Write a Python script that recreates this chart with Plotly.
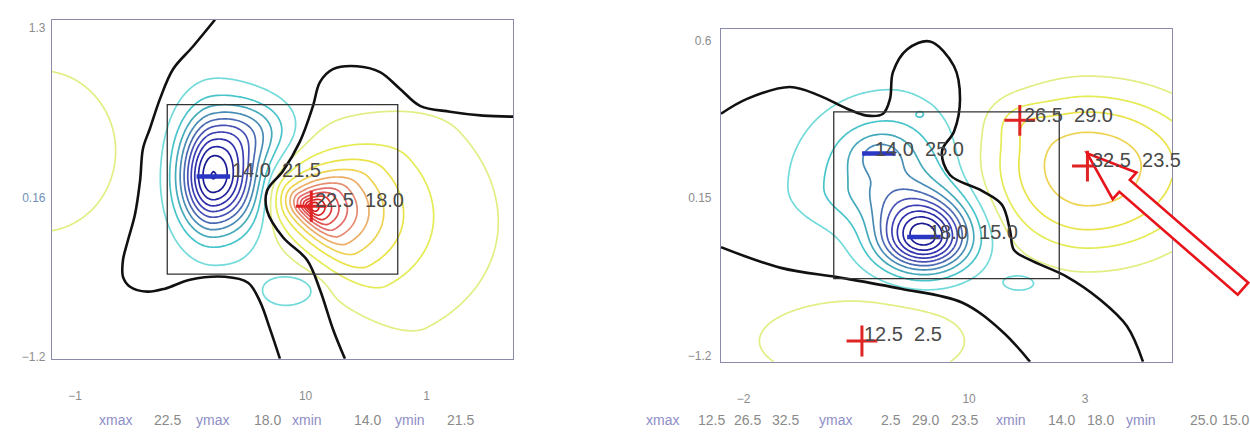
import numpy as np
import plotly.graph_objects as go

# ---------------- data (physical units 0..40) ----------------
# extrema listed under each panel
L_xmax = [22.5]; L_ymax = [18.0]; L_xmin = [14.0]; L_ymin = [21.5]
R_xmax = [12.5, 26.5, 32.5]; R_ymax = [2.5, 29.0, 23.5]
R_xmin = [14.0, 18.0]; R_ymin = [25.0, 15.0]

# field features (centre, amplitude, shape exponent, rotation, 4 half-scales)
L_fx = [14.0, 17.5, 21.1, 22.5, -1.0, 19.5]
L_fy = [21.5, 27.0, 8.2, 18.0, 24.5, 8.0]
L_amp = [-10.7, -2.2, -1.1, 12.0, 1.0, -0.45]
L_pow = [2, 2, 2, 1, 2, 2]
L_ang = [0, 0, 0, -55, 0, 0]
L_su_neg = [2.77, 3.5, 2.0, 2.6, 7.8, 3.5]
L_su_pos = [3.9, 3.5, 2.0, 5.5, 7.8, 3.0]
L_sv_neg = [6.0, 3.5, 1.6, 1.8, 11.4, 4.0]
L_sv_pos = [6.6, 3.5, 1.6, 4.9, 11.4, 4.0]

R_fx = [18.0, 15.0, 14.0, 17.7, 26.5, 32.5, 26.5, 12.5]
R_fy = [15.0, 21.0, 25.0, 29.8, 9.5, 23.5, 29.0, 2.5]
R_amp = [-9.9, -3.3, -1.5, -0.8, -0.9, 3.9, 0.8, 1.3]
R_pow = [2, 2, 2, 2, 2, 3, 2, 2]
R_ang = [0, 0, 0, 0, 0, 0, 0, 0]
R_su_neg = [3.9, 6.6, 2.5, 0.7, 2.0, 8.0, 2.5, 9.3]
R_su_pos = [3.8, 5.0, 2.5, 0.7, 2.0, 10.0, 2.5, 9.3]
R_sv_neg = [3.9, 4.5, 2.5, 0.7, 1.3, 10.0, 2.5, 5.0]
R_sv_pos = [4.3, 8.5, 2.5, 0.7, 1.3, 8.5, 2.5, 5.0]

# zero (black) contour lines
L_zero1_x = [14.14, 12.23, 10.50, 9.37, 8.50, 7.90, 7.64, 7.20, 6.59, 6.16, 6.16, 6.77, 8.24, 9.80, 11.97, 15.01, 17.01, 18.05, 18.92, 19.78]
L_zero1_y = [40.0, 36.85, 34.17, 30.67, 27.17, 24.84, 20.99, 17.03, 13.99, 11.66, 9.68, 8.51, 7.93, 8.28, 9.33, 9.68, 8.98, 6.76, 3.50, 0.0]
L_zero2_x = [25.42, 24.38, 23.25, 22.13, 20.04, 18.66, 18.66, 20.04, 21.52, 22.65, 23.25, 24.38, 26.46, 28.46, 30.20, 31.93, 34.53, 37.40, 40.0]
L_zero2_y = [0.0, 3.50, 8.16, 11.66, 14.34, 17.49, 19.83, 22.16, 25.66, 29.85, 32.65, 34.17, 34.52, 33.82, 31.84, 29.85, 29.15, 28.69, 28.57]
R_zero1_x = [0.00, 2.31, 6.12, 8.78, 11.18, 12.95, 14.37, 14.99, 15.25, 16.50, 18.54, 20.67, 21.20, 20.67, 19.60, 20.31, 23.15, 24.92, 25.63, 25.99, 27.41, 30.69, 33.61, 36.01, 37.43]
R_zero1_y = [29.79, 31.57, 33.00, 31.93, 30.39, 29.56, 29.79, 31.57, 34.78, 37.51, 38.46, 35.49, 31.57, 27.66, 25.28, 22.43, 20.53, 18.87, 15.79, 13.41, 12.23, 10.21, 7.48, 4.27, 0.0]
R_zero2_x = [0.0, 5.32, 10.64, 15.96, 21.37, 24.92, 27.41]
R_zero2_y = [13.77, 11.28, 10.09, 8.78, 7.12, 3.68, 0.0]

# analysis boxes [x0, x1, y0, y1]
L_box = [10, 30, 10, 30]
R_box = [10, 30, 10, 30]

# tick labels
L_xtick_vals = [2, 22, 32.5]; L_xtick_text = ["\u22121", "10", "1"]
L_ytick_vals = [0.2, 19.0, 39.0]; L_ytick_text = ["\u22121.2", "<span style='color:#7090b8'>0.16</span>", "1.3"]
R_xtick_vals = [2, 22, 32.3]; R_xtick_text = ["\u22122", "10", "3"]
R_ytick_vals = [0.7, 19.7, 38.5]; R_ytick_text = ["\u22121.2", "0.15", "0.6"]

# contour levels and colours (negative innermost -> positive innermost)
levels = [-10.5, -9.5, -8.5, -7.5, -6.5, -5.5, -4.5, -3.5, -2.5, -1.5, -0.5,
          0.5, 1.5, 2.5, 3.5, 4.5, 5.5, 6.5, 7.5, 8.5, 9.5, 10.5]
level_colors = ['#16168a', '#1e1e98', '#2828a6', '#3434b0', '#4044b4', '#4a56b4',
                '#4a70b2', '#4890b6', '#42acbc', '#48c6cc', '#74dada',
                '#e2ee84', '#e4ec56', '#eae448', '#eed84c', '#eeb464', '#e69472',
                '#e47470', '#e25a58', '#de4040', '#da2a2a', '#d41818']

# ---------------- build fields ----------------
g = np.linspace(0, 40, 241)
GX, GY = np.meshgrid(g, g)


def field(fx, fy, amp, pw, ang, sun, sup, svn, svp):
    Z = np.zeros_like(GX)
    for i in range(len(fx)):
        t = np.deg2rad(ang[i])
        dx = GX - fx[i]; dy = GY - fy[i]
        u = dx * np.cos(t) + dy * np.sin(t)
        v = -dx * np.sin(t) + dy * np.cos(t)
        su = np.where(u < 0, sun[i], sup[i])
        sv = np.where(v < 0, svn[i], svp[i])
        r = np.sqrt((u / su) ** 2 + (v / sv) ** 2)
        Z += amp[i] * np.exp(-r ** pw[i])
    return Z


ZL = field(L_fx, L_fy, L_amp, L_pow, L_ang, L_su_neg, L_su_pos, L_sv_neg, L_sv_pos)
ZR = field(R_fx, R_fy, R_amp, R_pow, R_ang, R_su_neg, R_su_pos, R_sv_neg, R_sv_pos)

zmin, zmax = -11, 11
cs = [[0.0, level_colors[0]]]
for lv, c in zip(levels, level_colors):
    cs.append([(lv - zmin) / (zmax - zmin), c])
cs.append([1.0, level_colors[-1]])

fig = go.Figure()


def add_panel(Z, xa, ya, z1x, z1y, z2x, z2y, xmx, ymx, xmn, ymn):
    fig.add_trace(go.Contour(
        x=g, y=g, z=Z, xaxis=xa, yaxis=ya, showscale=False, hoverinfo='skip',
        colorscale=cs, zauto=False, zmin=zmin, zmax=zmax,
        contours=dict(coloring='lines', start=-10.5, end=10.5, size=1),
        line=dict(width=1.7, smoothing=1.0)))
    for zx, zy in ((z1x, z1y), (z2x, z2y)):
        fig.add_trace(go.Scatter(x=zx, y=zy, xaxis=xa, yaxis=ya, mode='lines',
                                 line=dict(color='#111111', width=2.6, shape='spline', smoothing=1.0),
                                 hoverinfo='skip', showlegend=False))
    fig.add_trace(go.Scatter(x=xmn, y=ymn, xaxis=xa, yaxis=ya, mode='markers',
                             marker=dict(symbol='line-ew', size=24, line=dict(color='#2a36c4', width=4.5)),
                             hoverinfo='skip', showlegend=False))
    fig.add_trace(go.Scatter(x=xmx, y=ymx, xaxis=xa, yaxis=ya, mode='markers',
                             marker=dict(symbol='cross-thin', size=22, line=dict(color='#e02424', width=3)),
                             hoverinfo='skip', showlegend=False))


add_panel(ZL, 'x', 'y', L_zero1_x, L_zero1_y, L_zero2_x, L_zero2_y, L_xmax, L_ymax, L_xmin, L_ymin)
add_panel(ZR, 'x2', 'y2', R_zero1_x, R_zero1_y, R_zero2_x, R_zero2_y, R_xmax, R_ymax, R_xmin, R_ymin)

# extrema labels
lab_font = dict(family='Liberation Sans, Arial, sans-serif', size=20, color='#4a4a4a')
ann = []
L_shift_min = [(17, 7)]; L_shift_max = [(2, 6)]
R_shift_max = [(0, 7), (2, 5), (3, 6)]; R_shift_min = [(-6, 5), (3, 5)]
for xs, ys, sh, xr, yr in ((L_xmin, L_ymin, L_shift_min, 'x', 'y'), (L_xmax, L_ymax, L_shift_max, 'x', 'y'),
                            (R_xmax, R_ymax, R_shift_max, 'x2', 'y2'), (R_xmin, R_ymin, R_shift_min, 'x2', 'y2')):
    for xv, yv, (sx, sy) in zip(xs, ys, sh):
        ann.append(dict(x=xv, y=yv, xref=xr, yref=yr, text=f"{xv:.1f}&nbsp;&nbsp;{yv:.1f}",
                        showarrow=False, xanchor='left', yanchor='middle', xshift=sx, yshift=sy,
                        font=lab_font))

# bottom summary lines
word_col = '#8e8ec6'; num_col = '#8a8a8a'
L_tokens = ['xmax'] + [f"{v:.1f}" for v in L_xmax] + ['ymax'] + [f"{v:.1f}" for v in L_ymax] + \
           ['xmin'] + [f"{v:.1f}" for v in L_xmin] + ['ymin'] + [f"{v:.1f}" for v in L_ymin]
L_tok_px = [115, 167, 212, 267, 307, 367, 410, 460]
R_tokens = ['xmax'] + [f"{v:.1f}" for v in R_xmax] + ['ymax'] + [f"{v:.1f}" for v in R_ymax] + \
           ['xmin'] + [f"{v:.1f}" for v in R_xmin] + ['ymin'] + [f"{v:.1f}" for v in R_ymin]
R_tok_px = [662, 711, 747, 785, 835, 891, 925, 964, 1011, 1061, 1100, 1141, 1203, 1235]
for toks, pxs in ((L_tokens, L_tok_px), (R_tokens, R_tok_px)):
    for t, px in zip(toks, pxs):
        ann.append(dict(x=px / 1250, y=1 - 425 / 438, xref='paper', yref='paper', text=t,
                        showarrow=False, xanchor='center', yanchor='middle',
                        font=dict(family='Liberation Sans, Arial, sans-serif', size=14,
                                  color=word_col if t[0].isalpha() else num_col)))

# boxes
shapes = []
for b, xr, yr in ((L_box, 'x', 'y'), (R_box, 'x2', 'y2')):
    shapes.append(dict(type='rect', xref=xr, yref=yr, x0=b[0], x1=b[1], y0=b[2], y1=b[3],
                       line=dict(color='#333333', width=1.3), layer='above'))

# hollow red arrow (pixel geometry of the annotation)
tip = np.array([1087.0, 155.0]); tail = np.array([1243.0, 292.0])
d = (tail - tip) / np.linalg.norm(tail - tip); n = np.array([-d[1], d[0]])
base = tip + d * 50
pts = [tip, base + n * 18, base + n * 8, tail + n * 8, tail - n * 8, base - n * 8, base - n * 18]
path = 'M ' + ' L '.join(f"{p[0] / 1250:.5f},{1 - p[1] / 438:.5f}" for p in pts) + ' Z'
shapes.append(dict(type='path', xref='paper', yref='paper', path=path,
                   line=dict(color='#e8141c', width=2.6), fillcolor='white', layer='above'))

tick_font = dict(family='Liberation Sans, Arial, sans-serif', size=12, color='#8c8c8c')
frame = dict(showline=True, mirror=True, linecolor='#8a8aaa', linewidth=1.2, showgrid=False,
             zeroline=False, ticks='', range=[0, 40], tickfont=tick_font, fixedrange=True)

fig.update_layout(
    width=1250, height=438, margin=dict(l=0, r=0, t=0, b=0),
    paper_bgcolor='white', plot_bgcolor='white', showlegend=False,
    xaxis=dict(domain=[52 / 1250, 513 / 1250], tickmode='array', tickvals=L_xtick_vals,
               ticktext=L_xtick_text, ticklabelstandoff=26, anchor='y', **frame),
    yaxis=dict(domain=[(438 - 363) / 438, (438 - 20) / 438], tickmode='array', tickvals=L_ytick_vals,
               ticktext=L_ytick_text, ticklabelstandoff=3, anchor='x', **frame),
    xaxis2=dict(domain=[721 / 1250, 1172 / 1250], tickmode='array', tickvals=R_xtick_vals,
                ticktext=R_xtick_text, ticklabelstandoff=26, anchor='y2', **frame),
    yaxis2=dict(domain=[(438 - 366) / 438, (438 - 29) / 438], tickmode='array', tickvals=R_ytick_vals,
                ticktext=R_ytick_text, ticklabelstandoff=6, anchor='x2', **frame),
    annotations=ann, shapes=shapes,
)

fig.write_html("out.html")
